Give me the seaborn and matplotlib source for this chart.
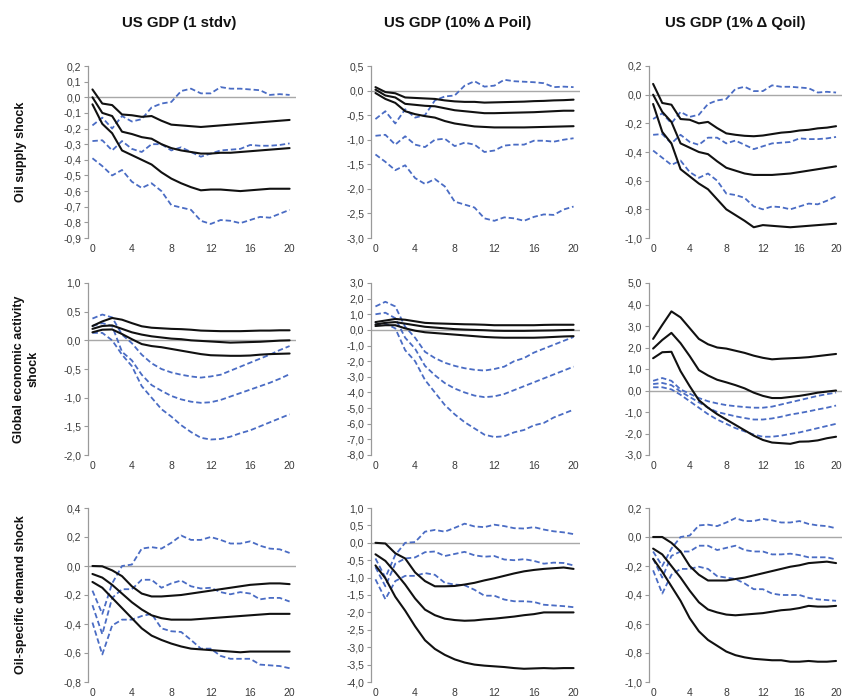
import matplotlib
matplotlib.use("Agg")
import matplotlib.pyplot as plt
from matplotlib.ticker import FuncFormatter, MultipleLocator
import seaborn as sns

# Impulse responses of US GDP, horizon in quarters
horizon = list(range(21))

# --- Oil supply shock ---------------------------------------------------
sup_sd_k1 = [0.05, -0.04, -0.05, -0.11, -0.115, -0.125, -0.12, -0.15, -0.175, -0.18, -0.185,
             -0.19, -0.185, -0.18, -0.175, -0.17, -0.165, -0.16, -0.155, -0.15, -0.145]
sup_sd_k2 = [0.0, -0.1, -0.12, -0.22, -0.235, -0.255, -0.265, -0.3, -0.325, -0.34, -0.35,
             -0.36, -0.36, -0.355, -0.355, -0.35, -0.345, -0.34, -0.335, -0.33, -0.325]
sup_sd_k3 = [-0.045, -0.17, -0.23, -0.34, -0.37, -0.40, -0.43, -0.48, -0.52, -0.55, -0.575,
             -0.595, -0.59, -0.59, -0.595, -0.6, -0.595, -0.59, -0.585, -0.585, -0.585]
sup_sd_b1 = [-0.18, -0.13, -0.2, -0.12, -0.155, -0.14, -0.065, -0.04, -0.03, 0.04, 0.055,
             0.025, 0.025, 0.065, 0.055, 0.055, 0.05, 0.045, 0.015, 0.02, 0.015]
sup_sd_b2 = [-0.28, -0.275, -0.34, -0.28, -0.33, -0.35, -0.3, -0.3, -0.34, -0.32, -0.35,
             -0.38, -0.36, -0.34, -0.335, -0.33, -0.305, -0.31, -0.31, -0.305, -0.295]
sup_sd_b3 = [-0.39, -0.44, -0.5, -0.465, -0.54, -0.58, -0.55, -0.6, -0.69, -0.705, -0.72,
             -0.79, -0.81, -0.785, -0.79, -0.805, -0.785, -0.765, -0.77, -0.745, -0.72]

sup_p_k1 = [0.07, -0.03, -0.055, -0.14, -0.15, -0.16, -0.17, -0.2, -0.22, -0.23, -0.23,
            -0.245, -0.24, -0.235, -0.23, -0.225, -0.215, -0.21, -0.2, -0.195, -0.185]
sup_p_k2 = [0.02, -0.1, -0.14, -0.27, -0.29, -0.31, -0.32, -0.36, -0.4, -0.42, -0.44,
            -0.46, -0.46, -0.455, -0.45, -0.445, -0.44, -0.43, -0.42, -0.41, -0.41]
sup_p_k3 = [-0.05, -0.17, -0.25, -0.42, -0.48, -0.52, -0.55, -0.62, -0.67, -0.7, -0.73,
            -0.74, -0.75, -0.75, -0.75, -0.75, -0.745, -0.74, -0.735, -0.73, -0.725]
sup_p_b1 = [-0.58, -0.42, -0.67, -0.38, -0.55, -0.5, -0.2, -0.12, -0.1, 0.1, 0.19,
            0.08, 0.1, 0.22, 0.19, 0.18, 0.17, 0.15, 0.07, 0.08, 0.07]
sup_p_b2 = [-0.92, -0.9, -1.1, -0.93, -1.1, -1.15, -1.0, -0.98, -1.13, -1.06, -1.1,
            -1.25, -1.22, -1.12, -1.1, -1.1, -1.02, -1.02, -1.04, -1.0, -0.97]
sup_p_b3 = [-1.3, -1.45, -1.62, -1.52, -1.78, -1.9, -1.8, -1.95, -2.26, -2.32, -2.38,
            -2.6, -2.65, -2.58, -2.6, -2.65, -2.57, -2.52, -2.53, -2.42, -2.36]

sup_q_k1 = [0.075, -0.058, -0.07, -0.17, -0.175, -0.2, -0.19, -0.233, -0.27, -0.28, -0.287,
            -0.29, -0.285, -0.275, -0.265, -0.26, -0.25, -0.245, -0.235, -0.23, -0.22]
sup_q_k2 = [0.0, -0.12, -0.19, -0.34, -0.37, -0.4, -0.415, -0.465, -0.51, -0.53, -0.55,
            -0.56, -0.56, -0.56, -0.555, -0.55, -0.54, -0.53, -0.52, -0.51, -0.5]
sup_q_k3 = [-0.065, -0.26, -0.34, -0.52, -0.57, -0.62, -0.66, -0.73, -0.8, -0.84, -0.88,
            -0.925, -0.91, -0.915, -0.92, -0.925, -0.92, -0.915, -0.91, -0.905, -0.9]
sup_q_b1 = [-0.17, -0.13, -0.2, -0.12, -0.155, -0.14, -0.065, -0.04, -0.03, 0.04, 0.055,
            0.025, 0.025, 0.065, 0.055, 0.055, 0.05, 0.045, 0.015, 0.02, 0.015]
sup_q_b2 = [-0.28, -0.275, -0.34, -0.28, -0.33, -0.35, -0.3, -0.3, -0.34, -0.32, -0.35,
            -0.38, -0.36, -0.34, -0.335, -0.33, -0.305, -0.31, -0.31, -0.305, -0.295]
sup_q_b3 = [-0.39, -0.44, -0.49, -0.46, -0.54, -0.58, -0.55, -0.6, -0.69, -0.7, -0.72,
            -0.78, -0.8, -0.78, -0.785, -0.8, -0.78, -0.76, -0.765, -0.74, -0.71]

# --- Global economic activity shock ---------------------------------------
act_sd_k1 = [0.25, 0.33, 0.39, 0.36, 0.3, 0.245, 0.22, 0.21, 0.2, 0.195, 0.185,
             0.17, 0.165, 0.16, 0.16, 0.16, 0.165, 0.17, 0.17, 0.175, 0.175]
act_sd_k2 = [0.2, 0.25, 0.26, 0.2, 0.14, 0.1, 0.07, 0.05, 0.03, 0.02, 0.0,
             -0.01, -0.02, -0.03, -0.04, -0.035, -0.03, -0.025, -0.015, -0.005, 0.0]
act_sd_k3 = [0.14, 0.185, 0.19, 0.11, 0.02, -0.065, -0.1, -0.12, -0.15, -0.18, -0.21,
             -0.24, -0.26, -0.265, -0.27, -0.27, -0.265, -0.25, -0.24, -0.235, -0.23]
act_sd_b1 = [0.38, 0.45, 0.4, 0.1, -0.05, -0.25, -0.4, -0.5, -0.56, -0.6, -0.63,
             -0.65, -0.63, -0.6, -0.53, -0.46, -0.39, -0.32, -0.25, -0.17, -0.1]
act_sd_b2 = [0.25, 0.3, 0.25, -0.2, -0.35, -0.6, -0.78, -0.88, -0.97, -1.03, -1.07,
             -1.09, -1.08, -1.04, -0.98, -0.92, -0.86, -0.8, -0.74, -0.67, -0.59]
act_sd_b3 = [0.13, 0.13, 0.0, -0.25, -0.45, -0.8, -1.0, -1.2, -1.33, -1.48, -1.6,
             -1.7, -1.73, -1.72, -1.68, -1.62, -1.57, -1.5, -1.43, -1.36, -1.29]

act_p_k1 = [0.5, 0.6, 0.7, 0.65, 0.55, 0.45, 0.42, 0.4, 0.38, 0.36, 0.35,
            0.33, 0.3, 0.3, 0.3, 0.3, 0.3, 0.32, 0.33, 0.33, 0.33]
act_p_k2 = [0.35, 0.45, 0.5, 0.4, 0.3, 0.2, 0.15, 0.1, 0.05, 0.02, 0.0,
            -0.02, -0.05, -0.06, -0.06, -0.06, -0.05, -0.04, -0.03, -0.01, 0.0]
act_p_k3 = [0.25, 0.3, 0.3, 0.1, -0.05, -0.15, -0.2, -0.25, -0.3, -0.35, -0.4,
            -0.45, -0.48, -0.5, -0.5, -0.5, -0.5, -0.48, -0.45, -0.42, -0.4]
act_p_b1 = [1.5, 1.8, 1.5, 0.2, -0.5, -1.4, -1.8, -2.1, -2.3, -2.45, -2.55,
            -2.6, -2.5, -2.35, -2.0, -1.8, -1.45, -1.2, -0.95, -0.7, -0.45]
act_p_b2 = [1.0, 1.1, 0.75, -0.5, -1.2, -2.3, -2.9, -3.4, -3.75, -4.0, -4.2,
            -4.3, -4.25, -4.1, -3.85, -3.6, -3.35, -3.1, -2.85, -2.6, -2.35]
act_p_b3 = [0.35, 0.4, 0.1, -1.3, -2.0, -3.2, -4.0, -4.8, -5.4, -5.9, -6.3,
            -6.7, -6.85, -6.8, -6.55, -6.4, -6.1, -5.95, -5.6, -5.35, -5.1]

act_q_k1 = [2.4, 3.05, 3.68, 3.4, 2.9, 2.4, 2.15, 2.0, 1.95, 1.85, 1.75,
            1.62, 1.52, 1.45, 1.48, 1.5, 1.52, 1.55, 1.6, 1.65, 1.7]
act_q_k2 = [1.95, 2.35, 2.68, 2.2, 1.6, 0.95, 0.7, 0.5, 0.38, 0.25, 0.1,
            -0.1, -0.25, -0.35, -0.35, -0.3, -0.25, -0.18, -0.1, -0.05, 0.0]
act_q_k3 = [1.5, 1.78, 1.8, 0.9, 0.2, -0.45, -0.8, -1.1, -1.35, -1.6, -1.85,
            -2.1, -2.3, -2.42, -2.45, -2.48, -2.38, -2.37, -2.32, -2.22, -2.15]
act_q_b1 = [0.45, 0.58, 0.45, 0.05, -0.15, -0.35, -0.5, -0.6, -0.68, -0.73, -0.77,
            -0.8, -0.8, -0.75, -0.65, -0.55, -0.45, -0.35, -0.25, -0.17, -0.1]
act_q_b2 = [0.3, 0.35, 0.25, -0.05, -0.3, -0.55, -0.8, -1.0, -1.1, -1.2, -1.28,
            -1.35, -1.35, -1.3, -1.22, -1.12, -1.05, -0.97, -0.88, -0.8, -0.7]
act_q_b3 = [0.15, 0.15, 0.05, -0.2, -0.5, -0.8, -1.1, -1.35, -1.55, -1.75, -1.9,
            -2.05, -2.15, -2.15, -2.1, -2.02, -1.95, -1.85, -1.75, -1.65, -1.55]

# --- Oil-specific demand shock ------------------------------------------
dem_sd_k1 = [0.0, -0.002, -0.03, -0.07, -0.14, -0.19, -0.21, -0.21, -0.205, -0.2, -0.19,
             -0.18, -0.17, -0.16, -0.15, -0.14, -0.13, -0.125, -0.12, -0.12, -0.125]
dem_sd_k2 = [-0.055, -0.08, -0.13, -0.19, -0.25, -0.3, -0.34, -0.36, -0.37, -0.37, -0.37,
             -0.365, -0.36, -0.355, -0.35, -0.345, -0.34, -0.335, -0.33, -0.33, -0.33]
dem_sd_k3 = [-0.11, -0.15, -0.22, -0.29, -0.36, -0.43, -0.48, -0.51, -0.535, -0.555, -0.57,
             -0.575, -0.58, -0.585, -0.59, -0.595, -0.59, -0.59, -0.59, -0.59, -0.59]
dem_sd_b1 = [-0.17, -0.33, -0.12, 0.0, 0.01, 0.12, 0.13, 0.12, 0.16, 0.21, 0.18,
             0.18, 0.2, 0.18, 0.155, 0.155, 0.17, 0.14, 0.12, 0.115, 0.09]
dem_sd_b2 = [-0.27, -0.47, -0.22, -0.16, -0.16, -0.095, -0.095, -0.15, -0.12, -0.1, -0.14,
             -0.155, -0.15, -0.18, -0.195, -0.18, -0.19, -0.23, -0.22, -0.22, -0.245]
dem_sd_b3 = [-0.39, -0.61, -0.41, -0.37, -0.37, -0.345, -0.33, -0.43, -0.45, -0.455, -0.51,
             -0.57, -0.57, -0.62, -0.64, -0.64, -0.64, -0.68, -0.685, -0.69, -0.705]

dem_p_k1 = [0.0, -0.02, -0.3, -0.45, -0.85, -1.1, -1.25, -1.25, -1.24, -1.2, -1.15,
            -1.08, -1.02, -0.95, -0.88, -0.82, -0.78, -0.75, -0.73, -0.71, -0.75]
dem_p_k2 = [-0.33, -0.52, -0.85, -1.2, -1.6, -1.92, -2.08, -2.18, -2.22, -2.24, -2.23,
            -2.2, -2.18, -2.15, -2.12, -2.08, -2.05, -2.0, -2.0, -2.0, -2.0]
dem_p_k3 = [-0.65, -1.02, -1.55, -1.95, -2.4, -2.8, -3.05, -3.22, -3.35, -3.44, -3.5,
            -3.53, -3.55, -3.57, -3.6, -3.62, -3.61, -3.6, -3.61, -3.6, -3.6]
dem_p_b1 = [-0.45, -1.0, -0.35, 0.0, 0.02, 0.32, 0.37, 0.32, 0.43, 0.55, 0.47,
            0.45, 0.52, 0.48, 0.42, 0.41, 0.45, 0.38, 0.33, 0.3, 0.25]
dem_p_b2 = [-0.7, -1.25, -0.6, -0.45, -0.42, -0.27, -0.25, -0.38, -0.32, -0.26, -0.36,
            -0.4, -0.38, -0.48, -0.5, -0.47, -0.52, -0.6, -0.57, -0.58, -0.65]
dem_p_b3 = [-1.05, -1.62, -1.1, -0.95, -0.95, -0.87, -0.92, -1.15, -1.2, -1.22, -1.35,
            -1.52, -1.52, -1.63, -1.68, -1.68, -1.7, -1.78, -1.8, -1.82, -1.85]

dem_q_k1 = [0.0, 0.0, -0.04, -0.1, -0.2, -0.26, -0.3, -0.3, -0.3, -0.29, -0.28,
            -0.265, -0.25, -0.235, -0.22, -0.205, -0.195, -0.18, -0.175, -0.17, -0.18]
dem_q_k2 = [-0.08, -0.12, -0.2, -0.28, -0.37, -0.45, -0.5, -0.52, -0.535, -0.54, -0.535,
            -0.53, -0.525, -0.515, -0.505, -0.5, -0.49, -0.475, -0.48, -0.48, -0.475]
dem_q_k3 = [-0.15, -0.24, -0.34, -0.44, -0.56, -0.65, -0.71, -0.75, -0.79, -0.815, -0.83,
            -0.84, -0.845, -0.85, -0.85, -0.86, -0.86, -0.855, -0.86, -0.86, -0.855]
dem_q_b1 = [-0.1, -0.2, -0.08, 0.0, 0.01, 0.08, 0.085, 0.075, 0.1, 0.13, 0.11,
            0.11, 0.125, 0.115, 0.1, 0.1, 0.11, 0.09, 0.08, 0.075, 0.06]
dem_q_b2 = [-0.15, -0.28, -0.13, -0.1, -0.1, -0.06, -0.06, -0.09, -0.075, -0.06, -0.09,
            -0.1, -0.1, -0.12, -0.12, -0.115, -0.125, -0.14, -0.14, -0.14, -0.155]
dem_q_b3 = [-0.23, -0.39, -0.26, -0.22, -0.22, -0.205, -0.22, -0.27, -0.28, -0.29, -0.32,
            -0.36, -0.36, -0.39, -0.4, -0.4, -0.4, -0.42, -0.43, -0.435, -0.44]

col_titles = ["US GDP (1 stdv)", "US GDP (10% \u0394 Poil)", "US GDP (1% \u0394 Qoil)"]
row_titles = ["Oil supply shock", "Global economic activity\nshock", "Oil-specific demand shock"]
x_ticks = [0, 4, 8, 12, 16, 20]

panels = [
    [(sup_sd_k1, sup_sd_k2, sup_sd_k3, sup_sd_b1, sup_sd_b2, sup_sd_b3),
     (sup_p_k1, sup_p_k2, sup_p_k3, sup_p_b1, sup_p_b2, sup_p_b3),
     (sup_q_k1, sup_q_k2, sup_q_k3, sup_q_b1, sup_q_b2, sup_q_b3)],
    [(act_sd_k1, act_sd_k2, act_sd_k3, act_sd_b1, act_sd_b2, act_sd_b3),
     (act_p_k1, act_p_k2, act_p_k3, act_p_b1, act_p_b2, act_p_b3),
     (act_q_k1, act_q_k2, act_q_k3, act_q_b1, act_q_b2, act_q_b3)],
    [(dem_sd_k1, dem_sd_k2, dem_sd_k3, dem_sd_b1, dem_sd_b2, dem_sd_b3),
     (dem_p_k1, dem_p_k2, dem_p_k3, dem_p_b1, dem_p_b2, dem_p_b3),
     (dem_q_k1, dem_q_k2, dem_q_k3, dem_q_b1, dem_q_b2, dem_q_b3)],
]

# y-axis range and tick step of every panel
y_ranges = [
    [(-0.9, 0.2, 0.1), (-3.0, 0.5, 0.5), (-1.0, 0.2, 0.2)],
    [(-2.0, 1.0, 0.5), (-8.0, 3.0, 1.0), (-3.0, 5.0, 1.0)],
    [(-0.8, 0.4, 0.2), (-4.0, 1.0, 0.5), (-1.0, 0.2, 0.2)],
]

sns.set_style("white")
plt.rcParams["font.family"] = ["Liberation Sans", "DejaVu Sans"]

W, H = 843, 698
fig = plt.figure(figsize=(W / 100, H / 100), dpi=100)

col_left = [88, 371, 649]
col_width = [208, 209, 193]
row_top = [66, 283, 508]
row_bottom = [238, 455, 682]

BLACK = "#111111"
BLUE = "#4a6cc4"
AXIS_GREY = "#9a9a9a"


def comma_fmt(v, _pos):
    if abs(v) < 1e-9:
        v = 0.0
    return f"{v:.1f}".replace(".", ",")


for r in range(3):
    for c in range(3):
        ax = fig.add_axes([col_left[c] / W, 1 - row_bottom[r] / H,
                           col_width[c] / W, (row_bottom[r] - row_top[r]) / H])
        ax.set_facecolor("none")
        ax.axhline(0, color="#a8a8a8", lw=1.0, zorder=1)
        k1, k2, k3, b1, b2, b3 = panels[r][c]
        for series in (b1, b2, b3):
            sns.lineplot(x=horizon, y=series, ax=ax, color=BLUE, lw=1.3,
                         linestyle=(0, (3.0, 1.6)), zorder=2)
        for series in (k1, k2, k3):
            sns.lineplot(x=horizon, y=series, ax=ax, color=BLACK, lw=1.5, zorder=3)

        lo, hi, step = y_ranges[r][c]
        ax.set_ylim(lo, hi)
        ax.set_xlim(-0.45, 20.65)
        ax.yaxis.set_major_locator(MultipleLocator(step))
        ax.yaxis.set_major_formatter(FuncFormatter(comma_fmt))
        ax.set_xticks(x_ticks)
        ax.set_xticklabels([str(t) for t in x_ticks])
        ax.set_xlabel("")
        ax.set_ylabel("")
        for side in ("top", "right", "bottom"):
            ax.spines[side].set_visible(False)
        ax.spines["left"].set_color(AXIS_GREY)
        ax.spines["left"].set_linewidth(0.9)
        ax.tick_params(axis="y", which="major", left=True, length=3, width=0.8,
                       color=AXIS_GREY, labelsize=7.5, labelcolor="#3a3a3a", pad=2)
        ax.tick_params(axis="x", which="major", bottom=False, length=0,
                       labelsize=7.5, labelcolor="#3a3a3a", pad=4)
        ax.grid(False)

title_x = [179, 458, 735]
for c in range(3):
    fig.text(title_x[c] / W, 1 - 23 / H, col_titles[c], ha="center", va="center",
             fontsize=10.8, fontweight="bold", color="#111111")

row_x = [21, 26, 21]
for r in range(3):
    yc = (row_top[r] + row_bottom[r]) / 2
    fig.text(row_x[r] / W, 1 - yc / H, row_titles[r], ha="center", va="center",
             rotation=90, fontsize=9, fontweight="bold", color="#111111",
             multialignment="center", linespacing=1.3)

fig.savefig("out.png", dpi=100)
